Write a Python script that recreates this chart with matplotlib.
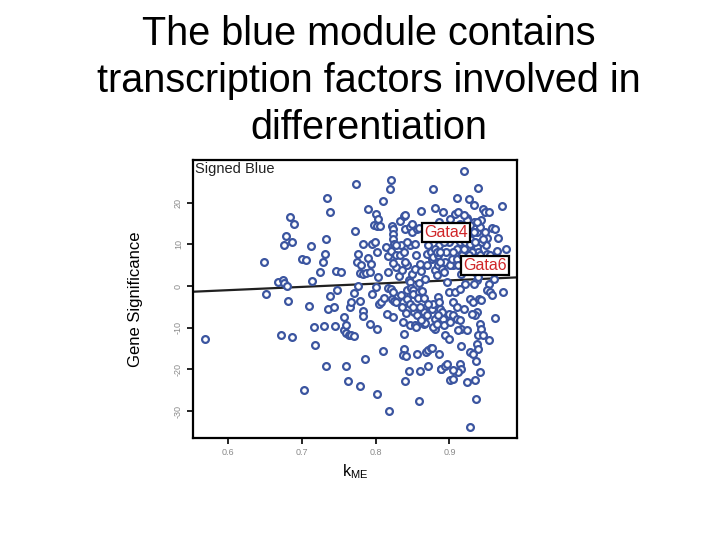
import matplotlib
matplotlib.use("Agg")
import matplotlib.pyplot as plt


TITLE = "The blue module contains\ntranscription factors involved in\ndifferentiation"
PANEL = "Signed Blue"

# module membership (kME) and gene significance
kme = [
    0.569, 0.649, 0.651, 0.667, 0.674, 0.676, 0.679, 0.681, 0.672, 0.686,
    0.676, 0.678, 0.684, 0.689, 0.687, 0.700, 0.705, 0.712, 0.714, 0.709,
    0.716, 0.718, 0.703, 0.730, 0.724, 0.728, 0.731, 0.733, 0.734, 0.738,
    0.733, 0.735, 0.738, 0.743, 0.745, 0.746, 0.748, 0.753, 0.757, 0.757,
    0.760, 0.759, 0.763, 0.766, 0.760, 0.762, 0.765, 0.767, 0.771, 0.772,
    0.773, 0.776, 0.775, 0.776, 0.779, 0.780, 0.771, 0.778, 0.782, 0.783,
    0.786, 0.782, 0.779, 0.783, 0.787, 0.790, 0.789, 0.792, 0.793, 0.795,
    0.792, 0.801, 0.801, 0.795, 0.800, 0.801, 0.799, 0.800, 0.803, 0.797,
    0.801, 0.806, 0.803, 0.804, 0.807, 0.811, 0.810, 0.810, 0.815, 0.819,
    0.820, 0.818, 0.823, 0.817, 0.814, 0.816, 0.821, 0.822, 0.823, 0.823,
    0.824, 0.825, 0.828, 0.827, 0.823, 0.820, 0.824, 0.822, 0.825, 0.828,
    0.831, 0.833, 0.834, 0.833, 0.838, 0.840, 0.839, 0.837, 0.835, 0.837,
    0.838, 0.838, 0.837, 0.841, 0.840, 0.845, 0.841, 0.842, 0.842, 0.845,
    0.847, 0.847, 0.849, 0.849, 0.847, 0.848, 0.850, 0.851, 0.852, 0.846,
    0.853, 0.856, 0.855, 0.856, 0.859, 0.860, 0.849, 0.853, 0.855, 0.853,
    0.856, 0.859, 0.862, 0.858, 0.858, 0.857, 0.860, 0.862, 0.863, 0.866,
    0.865, 0.865, 0.867, 0.867, 0.869, 0.868, 0.871, 0.871, 0.875, 0.876,
    0.871, 0.869, 0.875, 0.876, 0.878, 0.877, 0.880, 0.874, 0.876, 0.878,
    0.881, 0.877, 0.886, 0.888, 0.889, 0.894, 0.896, 0.881, 0.883, 0.884,
    0.885, 0.886, 0.889, 0.890, 0.886, 0.891, 0.885, 0.886, 0.887, 0.890,
    0.891, 0.892, 0.894, 0.899, 0.900, 0.901, 0.896, 0.899, 0.894, 0.895,
    0.899, 0.901, 0.899, 0.901, 0.908, 0.910, 0.912, 0.920, 0.924, 0.927,
    0.933, 0.939, 0.946, 0.948, 0.953, 0.958, 0.962, 0.971, 0.966, 0.976,
    0.964, 0.951, 0.950, 0.951, 0.955, 0.937, 0.941, 0.943, 0.933, 0.928,
    0.926, 0.924, 0.919, 0.915, 0.905, 0.907, 0.910, 0.914, 0.917, 0.914,
    0.933, 0.937, 0.939, 0.941, 0.935, 0.937, 0.939, 0.933, 0.953, 0.951,
    0.955, 0.958, 0.972, 0.960, 0.962, 0.954, 0.928, 0.932, 0.937, 0.935,
    0.931, 0.940, 0.943, 0.941, 0.943, 0.939, 0.946, 0.937, 0.939, 0.936,
    0.941, 0.935, 0.924, 0.928, 0.932, 0.916, 0.914, 0.916, 0.911, 0.905,
    0.901, 0.905, 0.936, 0.928, 0.905, 0.910, 0.914, 0.916, 0.911, 0.924,
    0.905, 0.910, 0.919, 0.907, 0.914, 0.921, 0.881, 0.883, 0.887, 0.890,
    0.892, 0.901, 0.903, 0.905, 0.910, 0.912, 0.917, 0.919, 0.921, 0.924,
    0.928, 0.931, 0.926, 0.921, 0.935, 0.946, 0.948, 0.943, 0.933, 0.928,
    0.924, 0.919, 0.937, 0.894, 0.892, 0.887, 0.834, 0.843, 0.847, 0.851,
    0.860, 0.862, 0.869, 0.871, 0.881, 0.883, 0.885, 0.817, 0.835, 0.840,
    0.838, 0.828, 0.842,
]
gene_sig = [
    -12.6, 5.7, -1.8, 1.0, 1.4, 0.7, 0.1, -3.6, -11.7, -12.3,
    9.8, 12.0, 16.5, 14.9, 10.5, 6.6, 6.2, 9.6, 1.2, -4.8,
    -9.8, -14.2, -25.0, -9.6, 3.3, 5.8, 7.8, 11.4, 21.2, 17.8,
    -19.2, -5.4, -2.4, -5.0, -9.7, 3.6, -1.0, 3.4, -7.4, -10.6,
    -11.2, -9.4, -11.8, -11.8, -19.2, -22.9, -5.1, -3.8, -1.7, 13.2,
    24.6, -0.1, 5.8, 7.6, -3.5, 5.0, -12.1, -23.9, -6.0, -7.1,
    -17.4, 10.2, 3.1, 3.0, 3.2, 6.8, 18.6, 3.4, 5.2, 10.0,
    -9.2, -10.2, -25.8, -1.8, -0.3, 8.1, 10.5, 17.2, 16.2, 14.6,
    14.5, 14.4, 2.2, -4.3, -3.8, -2.8, 20.4, -15.6, -6.8, 23.2,
    25.4, -29.9, -7.4, -0.4, 9.4, 7.2, 8.4, 14.4, 13.7, 12.5,
    11.3, 10.2, 7.4, 4.6, 5.5, -0.8, -1.4, -3.1, -3.5, -3.8,
    2.5, 7.4, 9.8, 15.7, 16.8, 17.0, 13.6, -3.9, -5.0, -8.6,
    -11.4, -15.0, -16.6, -16.9, -22.7, -20.4, -6.5, -1.0, 5.0, 1.4,
    9.8, 14.2, 15.0, 13.0, 1.0, -0.4, -0.9, -1.8, -6.2, -9.4,
    -9.4, -7.0, -9.8, -16.2, -27.5, -20.4, 3.0, 4.2, 7.4, 10.0,
    13.7, 13.9, 18.0, 0.8, -1.4, -2.8, 5.4, 3.6, -1.2, -2.8,
    -6.2, -9.2, -8.8, 1.8, 5.0, -15.9, -19.1, -15.3, -14.9, -14.8,
    9.8, 7.8, 8.2, 6.5, 7.0, 23.3, 18.8, -5.0, -5.4, -4.2,
    -10.2, -9.8, -16.3, -20.0, -19.8, -19.1, -18.7, 3.8, 2.6, 5.0,
    7.4, 9.8, 11.4, 13.0, 15.4, 17.7, -2.6, -3.8, -5.4, -6.2,
    -7.8, -9.4, -11.8, -12.6, -6.6, -8.6, 1.0, -1.4, 5.8, 8.2,
    10.6, 12.2, 14.2, 16.2, 17.2, 21.2, 17.8, 27.6, 16.4, 21.0,
    19.4, 23.6, 18.6, 17.8, 17.7, 14.0, 13.8, 19.3, 11.6, 9.0,
    8.4, 11.6, 9.8, 7.8, 7.4, 13.0, 14.2, 10.6, 13.0, 11.4,
    9.0, 6.6, 4.2, 3.0, 5.0, 7.4, 9.0, 10.6, 13.0, 15.0,
    9.0, 9.4, 8.2, 7.4, 3.4, 1.4, 2.2, 0.6, 0.6, -1.0,
    -1.4, -2.2, -1.4, 1.8, -7.6, -13.0, -3.0, -3.8, -6.2, -7.0,
    -6.6, -3.0, -3.4, -9.0, -10.2, -11.8, -11.8, -13.8, -15.0, -17.9,
    -20.6, -22.6, -23.0, -15.8, -16.2, -14.4, -18.6, -19.8, -20.6, -20.2,
    -22.6, -22.2, -27.1, -33.8, -7.0, -7.8, -8.2, -10.2, -10.6, -10.6,
    -3.8, -5.0, -5.4, -1.4, -0.6, 0.6, 9.0, 8.2, 5.8, 4.2,
    3.4, 5.0, 6.6, 8.2, 6.6, 5.0, 7.4, 9.0, 10.6, 12.2,
    10.2, 8.2, 7.4, 5.8, 10.6, 11.4, 13.0, 15.8, 15.4, 14.6,
    15.8, 17.0, 15.4, 12.2, 10.6, 8.2, -2.2, -3.0, -4.2, -5.0,
    -5.0, -8.2, -7.0, -4.2, -7.8, -9.0, -7.0, 3.4, 3.8, 5.8,
    8.2, 9.8, 10.6,
]

# fitted line (intercept, slope) as drawn in the picture
fit_intercept = -5.69
fit_slope = 7.83

# labelled genes: name, kME, gene significance of the label box centre
gene_labels = ["Gata4", "Gata6"]
label_kme = [0.895, 0.948]
label_gs = [12.8, 5.0]

x_ticks = [0.6, 0.7, 0.8, 0.9]
y_ticks = [-30, -20, -10, 0, 10, 20]
x_range = (0.5525, 0.992)
y_range = (-36.4, 30.2)


def main():
    plt.rcParams["font.family"] = ["Liberation Sans", "DejaVu Sans"]

    fig = plt.figure(figsize=(7.2, 5.4), dpi=100)
    fig.text(0.512, 0.850, TITLE, ha="center", va="center",
             fontsize=28.5, linespacing=1.3, color="black")

    ax = fig.add_axes([0.2685, 0.1894, 0.45, 0.514])

    ax.scatter(kme, gene_sig, s=24, facecolors="white",
               edgecolors="#3b55a0", linewidths=1.6, zorder=3)

    xs = list(x_range)
    ys = [fit_intercept + fit_slope * v for v in xs]
    ax.plot(xs, ys, color="#202020", lw=1.6, zorder=2)

    for name, lx, ly in zip(gene_labels, label_kme, label_gs):
        ax.text(lx, ly, name, ha="center", va="center", fontsize=11.5,
                color="#d0262a", zorder=5,
                bbox=dict(boxstyle="square,pad=0.12", facecolor="white",
                          edgecolor="black", linewidth=1.6))

    ax.text(0.005, 0.995, PANEL, transform=ax.transAxes, ha="left",
            va="top", fontsize=10.5, color="#222222")

    ax.set_xlim(*x_range)
    ax.set_ylim(*y_range)
    ax.set_xticks(x_ticks)
    ax.set_yticks(y_ticks)
    ax.set_xticklabels([f"{v:.1f}" for v in x_ticks])
    ax.set_yticklabels([str(v) for v in y_ticks], rotation=90, va="center")
    ax.tick_params(axis="both", labelsize=6.5, labelcolor="#8a8a8a",
                   length=4, width=1.2, color="black", direction="out")

    for spine in ax.spines.values():
        spine.set_linewidth(1.6)
        spine.set_color("black")

    ax.set_xlabel(r"k$_{\mathregular{ME}}$", fontsize=11.5, labelpad=4)
    ax.set_ylabel("Gene Significance", fontsize=12, labelpad=22)

    fig.savefig("out.png", dpi=100)
    plt.close(fig)


if __name__ == "__main__":
    main()
